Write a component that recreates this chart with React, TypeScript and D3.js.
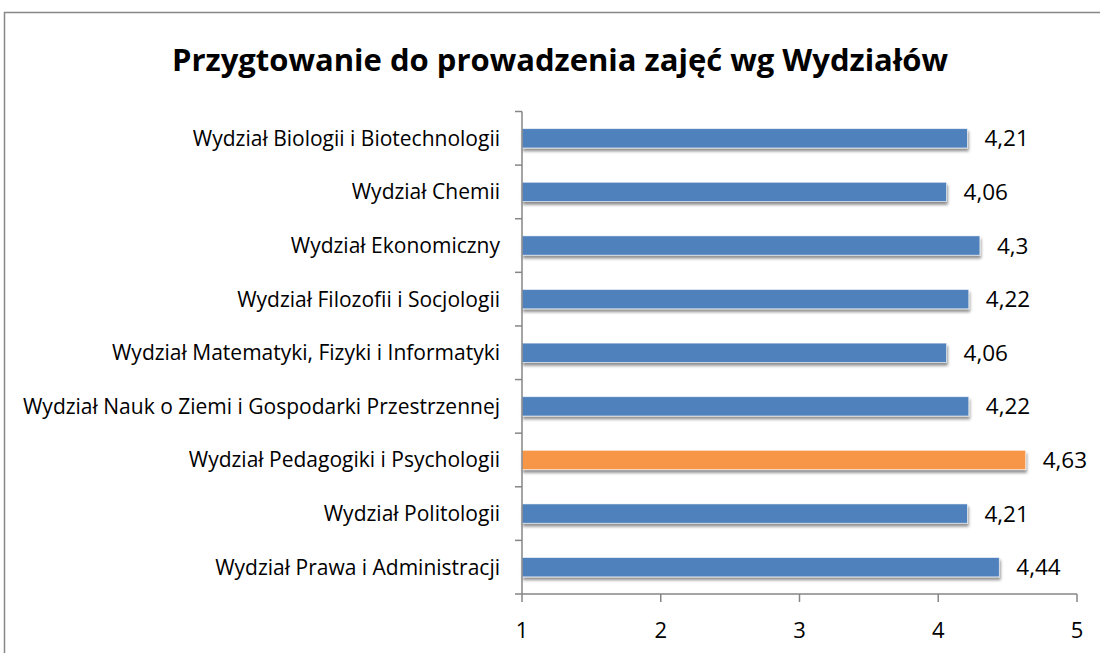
import React from "react";
import * as d3 from "d3";

const title = "Przygtowanie do prowadzenia zajęć wg Wydziałów";
const faculties = [
  "Wydział Biologii i Biotechnologii",
  "Wydział Chemii",
  "Wydział Ekonomiczny",
  "Wydział Filozofii i Socjologii",
  "Wydział Matematyki, Fizyki i Informatyki",
  "Wydział Nauk o Ziemi i Gospodarki Przestrzennej",
  "Wydział Pedagogiki i Psychologii",
  "Wydział Politologii",
  "Wydział Prawa i Administracji",
];
const scores = [4.21, 4.06, 4.3, 4.22, 4.06, 4.22, 4.63, 4.21, 4.44];
const highlighted = "Wydział Pedagogiki i Psychologii";
const xTicks = [1, 2, 3, 4, 5];

const W = 1100;
const H = 653;
const font = "'Open Sans', sans-serif";

export default function App() {
  // plot area
  const left = 522, right = 1077, top = 111.5, bottom = 594;

  const x = d3.scaleLinear().domain([1, 5]).range([left, right]);
  const y = d3.scaleBand<string>().domain(faculties).range([top, bottom]).paddingInner(0.64).paddingOuter(0.32);
  const band = (bottom - top) / faculties.length;
  const fmt = (v: number) => String(v).replace(".", ",");

  return (
    <svg width={W} height={H} style={{ position: "absolute", left: 0, top: 0, background: "#fff" }}>
      <defs>
        <filter id="sh" x="-5%" y="-50%" width="110%" height="220%">
          <feGaussianBlur in="SourceAlpha" stdDeviation="1.6" />
          <feOffset dx="1" dy="3" result="b" />
          <feComponentTransfer><feFuncA type="linear" slope="0.45" /></feComponentTransfer>
          <feMerge><feMergeNode /><feMergeNode in="SourceGraphic" /></feMerge>
        </filter>
      </defs>
      {/* chart frame */}
      <path d={`M4.5,${H} V12.5 H${W}`} fill="none" stroke="#878787" strokeWidth={1.5} />
      <text x={560} y={71} textAnchor="middle" fontFamily={font} fontWeight="bold" fontSize={31}>{title}</text>

      {/* bars */}
      {faculties.map((f, i) => (
        <g key={f}>
          <rect x={x(1)} y={y(f)!} width={x(scores[i]) - x(1)} height={y.bandwidth()}
            fill={f === highlighted ? "#F79646" : "#4F81BD"} stroke="#fff" strokeOpacity={0.7} strokeWidth={0.8}
            filter="url(#sh)" />
          <text x={x(scores[i]) + 17} y={y(f)! + y.bandwidth() / 2 + 8} fontFamily={font} fontSize={22.5}>{fmt(scores[i])}</text>
          <text x={500} y={y(f)! + y.bandwidth() / 2 + 7.5} textAnchor="end" fontFamily={font} fontSize={21}>{f}</text>
        </g>
      ))}

      {/* y axis */}
      <line x1={left} x2={left} y1={top} y2={bottom} stroke="#868686" strokeWidth={1.5} />
      {d3.range(faculties.length + 1).map((i) => (
        <line key={i} x1={left - 7} x2={left} y1={top + i * band} y2={top + i * band} stroke="#868686" strokeWidth={1.5} />
      ))}
      {/* x axis */}
      <line x1={left} x2={right} y1={bottom} y2={bottom} stroke="#868686" strokeWidth={1.5} />
      {xTicks.map((t) => (
        <g key={t}>
          <line x1={x(t)} x2={x(t)} y1={bottom} y2={bottom + 8} stroke="#868686" strokeWidth={1.5} />
          <text x={x(t)} y={638} textAnchor="middle" fontFamily={font} fontSize={22}>{t}</text>
        </g>
      ))}
    </svg>
  );
}
